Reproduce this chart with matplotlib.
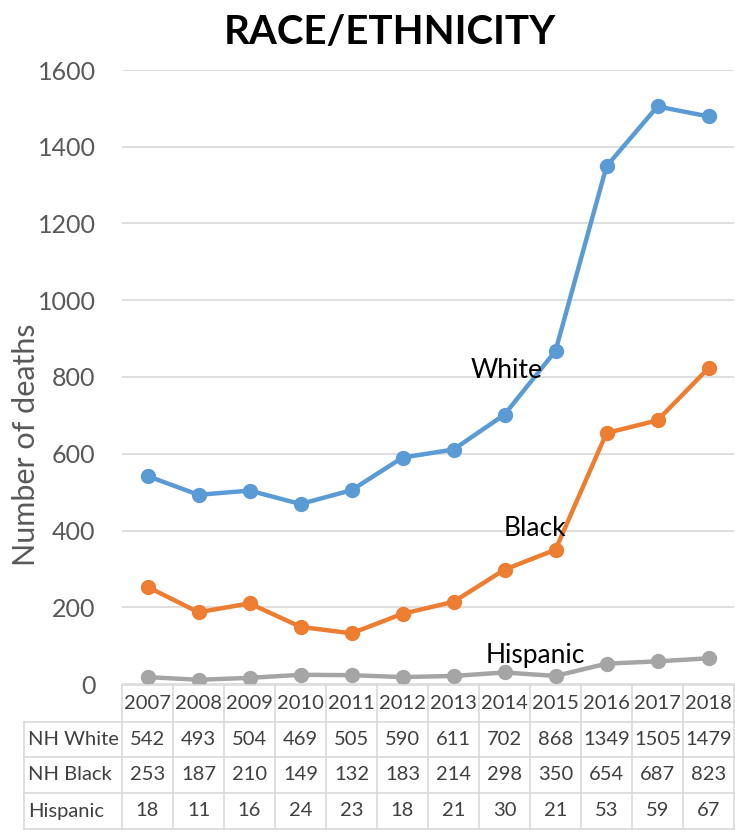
import matplotlib
matplotlib.use("Agg")
import matplotlib.pyplot as plt

years = ["2007", "2008", "2009", "2010", "2011", "2012",
         "2013", "2014", "2015", "2016", "2017", "2018"]
nh_white = [542, 493, 504, 469, 505, 590, 611, 702, 868, 1349, 1505, 1479]
nh_black = [253, 187, 210, 149, 132, 183, 214, 298, 350, 654, 687, 823]
hispanic = [18, 11, 16, 24, 23, 18, 21, 30, 21, 53, 59, 67]
row_names = ["NH White", "NH Black", "Hispanic"]
line_labels = ["White", "Black", "Hispanic"]
colors = ["#5B9BD5", "#ED7D31", "#A5A5A5"]

W, H = 735, 836
fig = plt.figure(figsize=(W / 100, H / 100), dpi=100)

# plot area in pixels
x0, x1 = 122, 734
y_top, y_bot = 70, 684
ax = fig.add_axes([x0 / W, 1 - y_bot / H, (x1 - x0) / W, (y_bot - y_top) / H])
ax.set_xlim(-0.5, len(years) - 0.5)
ax.set_ylim(0, 1600)
ax.set_yticks(range(0, 1601, 200))
ax.set_xticks([])
for s in ax.spines.values():
    s.set_visible(False)
ax.grid(axis="y", color="#D9D9D9", lw=1.2)
ax.set_axisbelow(True)
ax.tick_params(axis="y", length=0, pad=19, labelsize=18, labelcolor="#595959")
for lab in ax.get_yticklabels():
    lab.set_fontfamily("Lato")
ax.set_ylabel("Number of deaths", fontsize=22, color="#595959", family="Lato")
ax.yaxis.set_label_coords(-0.134, 0.39)

xs = range(len(years))
series = [nh_white, nh_black, hispanic]
for vals, c in zip(series, colors):
    ax.plot(xs, vals, color=c, lw=3.2, marker="o", ms=10, zorder=3)

lab_pos = [(7.05, 818), (7.6, 406), (7.6, 75)]
for txt, (lx, ly) in zip(line_labels, lab_pos):
    ax.text(lx, ly, txt, fontsize=19, family="Lato", ha="center", va="center")

fig.text(390 / W, 1 - 33 / H, "RACE/ETHNICITY", fontsize=29, fontweight="bold",
         family="Lato", ha="center", va="center")

# data table underneath, drawn in pixel coordinates
tab = fig.add_axes([0, 0, 1, 1])
tab.set_xlim(0, W)
tab.set_ylim(H, 0)
tab.axis("off")
tab.patch.set_alpha(0)

col_w = (x1 - x0) / len(years)
hx0 = 24
rows_y = [685, 722, 757, 793, 829]
gc = "#D9D9D9"
tab.plot([x0, x1], [rows_y[0]] * 2, color=gc, lw=1.2)
for y in rows_y[1:]:
    tab.plot([hx0, x1], [y, y], color=gc, lw=1.2)
tab.plot([hx0, hx0], [rows_y[1], rows_y[-1]], color=gc, lw=1.2)
for i in range(len(years) + 1):
    xx = x0 + i * col_w
    tab.plot([xx, xx], [rows_y[0], rows_y[-1]], color=gc, lw=1.2)

tfont = dict(fontsize=14.5, family="Lato", color="#404040",
             ha="center", va="center")
for i, yr in enumerate(years):
    tab.text(x0 + (i + 0.5) * col_w, (rows_y[0] + rows_y[1]) / 2, yr, **tfont)
for r, (name, vals) in enumerate(zip(row_names, series)):
    yc = (rows_y[r + 1] + rows_y[r + 2]) / 2
    tab.text(hx0 + 4, yc, name, **{**tfont, "ha": "left"})
    for i, v in enumerate(vals):
        tab.text(x0 + (i + 0.5) * col_w, yc, str(v), **tfont)

fig.savefig("out.png", dpi=100)
